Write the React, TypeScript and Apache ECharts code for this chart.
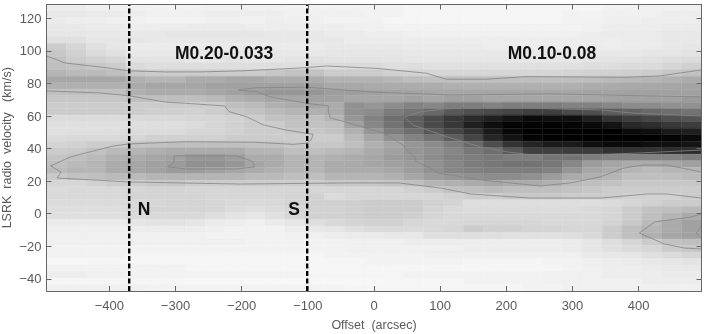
import React, { useEffect, useRef } from "react";
import * as echarts from "echarts";

const xTicks = [-400, -300, -200, -100, 0, 100, 200, 300, 400];
const yTicks = [-40, -20, 0, 20, 40, 60, 80, 100, 120];
const offsets = [-480,-450,-420,-390,-360,-330,-300,-270,-240,-210,-180,-150,-120,-90,-60,-30,0,30,60,90,120,150,180,210,240,270,300,330,360,390,420,450,480];
const velocities = [126.5,122.5,118.5,114.5,110.5,106.5,102.5,98.5,94.5,90.5,86.5,82.5,78.5,74.5,70.5,66.5,62.5,58.5,54.5,50.5,46.5,42.5,38.5,34.5,30.5,26.5,22.5,18.5,14.5,10.5,6.5,2.5,-1.5,-5.5,-9.5,-13.5,-17.5,-21.5,-25.5,-29.5,-33.5,-37.5,-41.5,-45.5];
const intensity = [
[7,7,6,6,6,5,5,5,6,6,6,6,5,5,5,5,5,5,4,4,4,4,4,4,4,4,4,4,5,5,6,6,6],
[9,9,8,8,7,6,6,6,7,7,7,7,6,6,6,6,5,5,4,4,4,4,4,4,4,4,5,5,6,6,6,7,7],
[8,7,7,6,6,5,5,5,6,6,6,7,6,6,5,5,5,4,4,4,4,4,4,4,4,4,5,5,6,6,7,7,7],
[9,9,8,8,7,7,7,8,8,8,7,7,7,7,7,6,6,5,5,5,5,5,5,5,5,5,5,6,7,7,7,8,8],
[10,10,9,9,9,9,10,10,10,10,10,9,9,9,8,8,7,7,6,6,6,6,6,6,6,6,6,7,8,8,8,9,9],
[12,12,10,10,10,9,9,9,9,9,9,9,9,9,9,8,8,8,7,7,7,7,7,7,7,7,7,7,7,8,8,9,9],
[20,16,12,10,8,8,8,8,8,8,8,8,8,8,9,9,9,9,8,8,8,8,7,7,7,7,7,7,7,8,8,9,10],
[22,18,14,12,9,9,9,9,9,9,9,9,9,9,10,10,10,10,9,9,9,9,9,9,9,9,9,9,9,9,10,10,11],
[24,20,18,16,11,11,11,9,10,11,10,10,11,12,11,11,11,11,10,10,10,10,10,10,10,10,10,11,11,11,12,13,14],
[25,24,22,20,14,13,13,13,13,13,13,13,13,14,14,14,14,13,13,12,12,12,12,12,12,12,12,13,13,14,14,16,18],
[29,27,27,25,22,20,20,20,20,20,20,22,24,24,20,20,20,18,17,16,16,16,16,16,16,16,17,18,18,19,20,22,24],
[35,35,35,35,31,29,29,33,33,35,35,33,33,33,30,30,30,28,26,25,25,25,25,25,25,25,25,26,27,28,29,31,33],
[31,31,31,31,33,35,35,35,37,37,37,37,37,37,34,34,33,33,32,32,31,31,31,31,31,31,31,32,33,34,34,35,36],
[25,25,25,25,31,33,33,33,35,37,39,41,41,41,38,38,37,36,36,35,35,35,35,35,35,35,35,36,36,37,37,37,37],
[22,22,22,22,25,25,25,25,27,31,33,35,35,37,37,35,35,35,37,35,37,37,35,35,35,35,35,35,36,37,37,37,39],
[20,20,20,20,20,20,20,20,20,25,27,31,33,35,33,43,41,45,49,47,51,51,49,51,51,51,49,49,47,45,45,43,43],
[20,20,20,20,20,19,19,18,20,22,24,27,29,31,33,43,45,51,55,59,65,69,71,73,75,75,71,69,63,61,59,57,55],
[14,14,14,14,15,15,15,16,16,18,20,24,25,25,29,41,49,57,63,71,78,84,88,92,96,94,94,88,80,76,73,69,67],
[12,12,12,12,13,13,13,14,16,18,20,20,24,24,25,37,47,55,63,71,78,88,94,98,99,99,98,96,92,84,82,78,76],
[12,13,13,13,14,14,14,16,16,18,20,20,22,22,24,31,41,51,57,65,73,80,90,97,100,100,100,100,100,96,94,90,88],
[14,15,15,15,16,18,18,18,18,20,20,20,20,20,20,27,35,43,49,55,63,73,85,92,98,100,100,100,100,100,100,98,96],
[17,18,20,20,23,24,25,25,25,25,24,24,22,22,22,25,31,35,41,45,51,59,70,80,86,90,90,94,96,96,94,94,92],
[20,21,24,27,29,31,33,33,33,33,29,29,25,25,27,29,33,37,41,43,47,53,57,66,75,75,76,76,80,80,80,82,82],
[23,25,27,31,33,35,37,41,41,39,33,33,29,29,31,33,35,39,41,45,49,51,53,51,51,55,55,51,49,49,49,49,51],
[25,27,29,33,35,37,39,43,43,41,35,33,29,29,33,33,35,37,39,43,47,51,53,55,55,53,47,39,35,33,33,35,37],
[27,29,29,33,35,37,39,39,37,35,33,31,29,29,33,33,33,35,39,43,47,49,51,51,51,49,41,35,33,29,27,29,29],
[21,24,25,27,27,29,29,29,29,29,27,27,25,25,29,29,29,31,35,39,41,43,45,45,43,39,33,31,29,25,25,25,27],
[16,16,18,20,20,22,22,20,20,20,20,20,20,20,22,22,22,24,25,29,31,33,35,33,33,31,27,25,24,22,22,22,22],
[14,15,15,15,16,17,17,16,16,16,16,16,16,16,16,16,16,16,18,20,24,25,27,25,25,25,24,22,20,20,20,20,20],
[15,15,15,15,17,17,17,17,16,16,16,16,17,18,14,16,16,16,16,16,18,20,20,22,22,22,20,20,20,18,18,18,20],
[14,14,14,14,15,16,17,17,16,15,15,15,17,18,18,19,20,20,20,18,17,13,13,13,13,13,13,13,14,16,18,20,20],
[13,13,13,13,15,17,17,17,16,14,13,14,16,18,18,19,20,20,20,17,15,14,14,14,14,14,14,15,16,20,24,25,27],
[12,12,12,12,14,15,15,15,13,11,10,12,16,18,18,19,20,20,19,16,15,15,15,15,15,15,15,15,16,20,25,29,33],
[8,8,8,8,10,11,11,10,8,7,6,8,10,13,15,17,18,18,16,15,15,16,16,16,16,15,15,15,17,21,27,33,37],
[6,6,6,6,7,7,7,7,6,5,5,5,7,9,10,12,14,15,14,15,16,20,18,18,17,17,16,16,20,25,29,33,37],
[6,6,6,6,6,6,6,6,5,5,5,5,6,6,7,8,8,9,9,13,13,13,13,12,12,12,13,15,20,25,31,35,37],
[6,6,6,6,6,6,6,6,6,6,5,5,5,5,5,6,6,6,7,7,7,7,7,7,7,7,8,10,13,16,20,24,25],
[5,5,5,5,5,5,5,5,5,5,5,5,5,5,5,6,6,6,6,6,6,7,7,7,7,7,8,10,12,14,16,20,22],
[5,5,5,5,4,4,4,4,4,4,4,4,4,4,5,5,5,5,5,6,6,6,6,6,6,6,6,8,9,10,12,14,16],
[3,3,4,4,4,4,4,4,4,4,4,4,4,4,4,4,5,5,5,5,5,4,4,4,4,5,5,6,7,8,9,10,11],
[5,5,5,5,5,5,5,4,4,4,4,4,4,4,4,4,4,4,4,4,4,4,4,4,4,4,5,6,7,7,8,9,9],
[7,7,6,6,5,5,5,5,5,5,5,5,5,4,4,4,4,4,5,5,5,5,5,5,5,6,6,6,7,7,7,8,8],
[4,4,4,4,4,4,4,3,3,3,3,3,3,3,3,3,3,4,4,4,4,5,5,5,5,6,6,6,6,6,7,7,7],
[6,6,6,6,6,5,5,5,5,5,5,5,5,5,5,4,4,4,4,4,4,4,4,4,5,5,6,6,6,6,6,6,6],
];

const contourBandUpper = [[-495,96.9],[-467,92.6],[-414,90.1],[-368,87.7],[-316,87.1],[-263,87.1],[-202,87.7],[-111,89.5],[-72,90.7],[3,89.3],[79,86.3],[109,82.6],[170,82.6],[230,84.2],[381,83.8],[431,84.6],[495,88.3]];
const contourOuter = [[-495,75.4],[-414,74.2],[-368,72.3],[-316,68.6],[-284,67.8],[-226,66.2],[-219,62.7],[-193,59.6],[-167,54.5],[-133,51.4],[-102,49.4],[-92,48.8],[-95,45.3],[-102,43.3],[-122,42.6],[-182,43.9],[-284,44.2],[-338,43.4],[-371,42.8],[-394,41.6],[-436,37.3],[-459,34.8],[-489,29.3],[-473,25.6],[-479,21.9],[-371,19.5],[-202,18.2],[-36,18.9],[37,18.9],[100,15.8],[146,12.1],[236,9.6],[342,9.6],[413,12.1],[443,12.1],[495,9.6]];
const contourMid = [[495,71.7],[266,73.6],[115,72.9],[-6,74.8],[-102,77.7],[-178,77.4],[-205,76],[-178,75],[-158,71.9],[-102,67.8],[-69,66.2],[-69,62.5],[-66,58.8],[-43,56.3],[14,49.6],[44,42.2],[52,37.9],[62,34.8],[64,31.8],[85,28.1],[96,25],[161,20.7],[206,18.9],[251,17],[297,18.9],[342,22.6],[377,28],[407,29.9],[443,29.9],[495,25.6]];
const contourPeak = [[495,60],[392,61.8],[342,63.7],[221,64.9],[135,64.9],[105,64.3],[70,62.5],[46,59.4],[59,54.5],[111,47.1],[161,41],[202,37.9],[241,36],[316,36],[403,37.3],[495,39.1]];
const contourIsland = [[-311,28.7],[-302,31.8],[-302,35.5],[-208,35.5],[-183,32],[-181,28.7],[-208,27.5],[-284,27.5],[-311,28.7]];
const contourLump = [[495,-0.2],[480,-2],[424,-5.1],[401,-11.9],[439,-18.6],[469,-21.1],[495,-21.7]];
const contourLumpInner = [[495,-7.6],[487,-11.9],[495,-14.9]];
const contours = [contourBandUpper, contourOuter, contourMid, contourPeak, contourIsland, contourLump, contourLumpInner];

const xMin = -495, xMax = 495, yMin = -47.5, yMax = 128.5;
const cellW = 30, cellH = 4;
const boundaryNorth = -370, boundarySouth = -101;

const FONT = "'Liberation Sans', sans-serif";
const AXIS = "#666";
const TEXT = "#5a5a5a";

export default function App() {
  const ref = useRef<HTMLDivElement>(null);
  useEffect(() => {
    const chart = echarts.init(ref.current!, null, { renderer: "svg" });
    const cells: number[][] = [];
    velocities.forEach((v, r) => offsets.forEach((x, c) => cells.push([x, v, intensity[r][c]])));
    const fmt = (v: number) => String(v).replace("-", "\u2212");
    const axisCommon = { axisLine: { show: true, onZero: false, lineStyle: { color: AXIS, width: 1 } }, splitLine: { show: false }, z: 10 };
    const tick = (vals: number[]) => ({ show: true, inside: true, length: 5, lineStyle: { color: AXIS, width: 1 }, customValues: vals });
    const label = { fontFamily: FONT, fontSize: 13, color: TEXT, formatter: fmt };
    const line = (data: number[][], color: string, width: number, type: any, z: number) => ({
      type: "line", data, symbol: "none", silent: true, z, clip: true,
      lineStyle: { color, width, type },
    });
    const note = (text: string, x: number, y: number) => ({
      type: "text", x, y, z: 20,
      style: { text, fontFamily: FONT, fontWeight: "bold", fontSize: 17.5, fill: "#111", align: "center", verticalAlign: "middle" },
    });
    chart.setOption({
      animation: false,
      grid: { left: 46.5, right: 2.5, top: 4.5, bottom: 43, outerBoundsMode: "none", containLabel: false },
      visualMap: { show: false, type: "continuous", dimension: 2, seriesIndex: 0, min: 0, max: 100, inRange: { color: ["#ffffff", "#000000"] } },
      xAxis: [
        { type: "value", min: xMin, max: xMax, position: "bottom", ...axisCommon, axisTick: tick(xTicks),
          axisLabel: { ...label, margin: 8, customValues: xTicks },
          name: "Offset  (arcsec)", nameLocation: "middle", nameGap: 27, nameMoveOverlap: false,
          nameTextStyle: { fontFamily: FONT, fontSize: 12.5, color: TEXT } },
        { type: "value", min: xMin, max: xMax, position: "top", ...axisCommon, axisTick: tick(xTicks), axisLabel: { show: false } },
      ],
      yAxis: [
        { type: "value", min: yMin, max: yMax, position: "left", ...axisCommon, axisTick: tick(yTicks),
          axisLabel: { ...label, margin: 5, customValues: yTicks },
          name: "LSRK  radio  velocity   (km/s)", nameLocation: "middle", nameGap: 33, nameMoveOverlap: false,
          nameTextStyle: { fontFamily: FONT, fontSize: 12.5, color: TEXT } },
        { type: "value", min: yMin, max: yMax, position: "right", ...axisCommon, axisTick: tick(yTicks), axisLabel: { show: false } },
      ],
      series: [
        {
          type: "custom", data: cells, silent: true, z: 1, clip: true,
          encode: { x: 0, y: 1 },
          renderItem: (_p: any, api: any) => {
            const tl = api.coord([api.value(0) - cellW / 2, api.value(1) + cellH / 2]);
            const sz = api.size([cellW, cellH]);
            const color = api.visual("color");
            return { type: "rect", shape: { x: tl[0], y: tl[1], width: sz[0], height: sz[1] },
              style: { fill: color, stroke: color, lineWidth: 0.4 } };
          },
        },
        ...contours.map((c) => line(c, "#858585", 0.8, "solid", 3)),
        line([[boundaryNorth, yMin], [boundaryNorth, yMax]], "#000", 2.4, [5, 2.5], 5),
        line([[boundarySouth, yMin], [boundarySouth, yMax]], "#000", 2.4, [5, 2.5], 5),
      ],
      graphic: [
        note("M0.20-0.033", 224, 53),
        note("M0.10-0.08", 552, 53),
        note("N", 144, 209),
        note("S", 294, 209),
      ],
    });
    return () => chart.dispose();
  }, []);
  return <div ref={ref} style={{ position: "absolute", left: 0, top: 0, width: 704, height: 334, filter: "blur(0.5px)" }} />;
}
